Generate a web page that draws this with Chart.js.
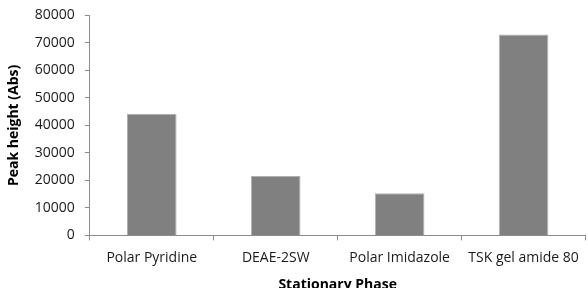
<!DOCTYPE html>
<html>
<head>
<meta charset="utf-8">
<script src="https://cdn.jsdelivr.net/npm/chart.js@4"></script>
<style>
  html, body { margin: 0; padding: 0; background: #fff; overflow: hidden; }
  #wrap { width: 588px; height: 296px; margin-top: -3px; position: relative; }
</style>
</head>
<body>
<div id="wrap"><canvas id="chartFases"></canvas></div>
<script>
// categorias y valores
const fases = ["Polar Pyridine", "DEAE-2SW", "Polar Imidazole", "TSK gel amide 80"];
const alturaPico = [44200, 21600, 15300, 73100];
const yMax = 80000;
const yPaso = 10000;

const fuente = "'Open Sans', 'Liberation Sans', sans-serif";
const colorEje = "#8c8c8c";

new Chart(document.getElementById("chartFases"), {
  type: "bar",
  data: {
    labels: fases,
    datasets: [
      {
        label: "Peak height",
        data: alturaPico,
        backgroundColor: "#808080",
        borderColor: "#b0b0b0",
        borderWidth: 1,
        barPercentage: 0.4,
        categoryPercentage: 1,
      },
    ],
  },
  options: {
    responsive: true,
    maintainAspectRatio: false,
    animation: false,
    layout: { padding: { left: 6, right: 1, top: 0, bottom: 0 } },
    plugins: {
      legend: { display: false },
      tooltip: { enabled: false },
    },
    scales: {
      x: {
        offset: true,
        grid: {
          offset: true,
          drawOnChartArea: false,
          drawTicks: true,
          tickLength: 5,
          color: colorEje,
        },
        border: { color: colorEje, width: 1 },
        ticks: {
          color: "#1a1a1a",
          font: { family: fuente, size: 14 },
          padding: 9,
          maxRotation: 0,
        },
        title: {
          display: true,
          text: "Stationary Phase",
          color: "#000",
          font: { family: fuente, size: 14, weight: "bold" },
          padding: { top: 1, bottom: 0 },
        },
      },
      y: {
        min: 0,
        max: yMax,
        grid: {
          drawOnChartArea: false,
          drawTicks: true,
          tickLength: 5,
          color: colorEje,
        },
        border: { color: colorEje, width: 1 },
        ticks: {
          stepSize: yPaso,
          color: "#1a1a1a",
          font: { family: fuente, size: 14 },
          padding: 10,
          callback: (v) => String(v),
        },
        title: {
          display: true,
          text: "Peak height (Abs)",
          color: "#000",
          font: { family: fuente, size: 14, weight: "bold" },
          padding: { top: 0, bottom: 2 },
        },
      },
    },
  },
});
</script>
</body>
</html>
